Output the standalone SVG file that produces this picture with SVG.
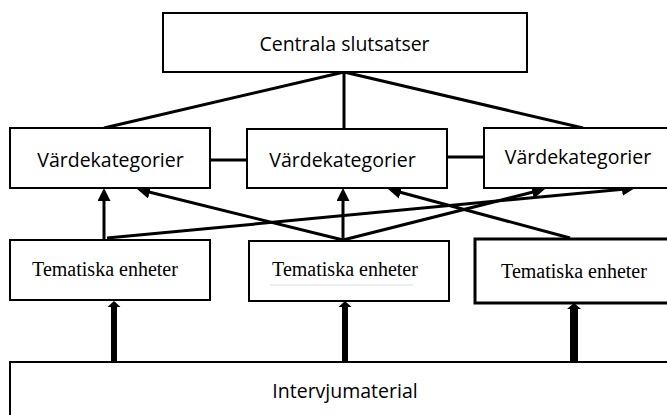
<svg xmlns="http://www.w3.org/2000/svg" width="667" height="415" viewBox="0 0 667 415">
  <style>
    .box { fill: #ffffff; stroke: #000000; stroke-width: 2; }
    .box-thick { fill: #ffffff; stroke: #000000; stroke-width: 3; }
    .sans { font-family: "Open Sans", "Liberation Sans", sans-serif; font-size: 19.5px; fill: #000000; text-anchor: middle; }
    .serif { font-family: "Liberation Serif", "Times New Roman", serif; font-size: 20px; fill: #000000; text-anchor: middle; }
    .link { stroke: #000000; stroke-width: 3; fill: none; }
    .arrow { stroke: #000000; stroke-width: 3; fill: none; marker-end: url(#head); }
  </style>
  <defs>
    <marker id="head" viewBox="0 0 13 13" refX="9" refY="6.5" markerWidth="13" markerHeight="13" markerUnits="userSpaceOnUse" orient="auto">
      <path d="M0,0 L13,6.5 L0,13 Z" fill="#000000"/>
    </marker>
  </defs>

  <rect width="667" height="415" fill="#ffffff"/>

  <!-- connectors -->
  <g id="connectors">
    <!-- conclusions to value categories -->
    <line class="link" x1="344" y1="72" x2="104" y2="128"/>
    <line class="link" x1="344" y1="72" x2="344" y2="129"/>
    <line class="link" x1="344" y1="72" x2="583" y2="128"/>
    <!-- links between value categories -->
    <line class="link" x1="210" y1="160" x2="247" y2="160"/>
    <line class="link" x1="447" y1="157" x2="484" y2="157"/>
    <!-- thematic units to value categories -->
    <line class="arrow" x1="104" y1="240" x2="104" y2="192"/>
    <line class="arrow" x1="107" y1="238" x2="631" y2="188.4"/>
    <line class="arrow" x1="343" y1="240" x2="140.9" y2="190"/>
    <line class="arrow" x1="343" y1="240" x2="343" y2="192"/>
    <line class="arrow" x1="343" y1="240" x2="541.1" y2="190"/>
    <line class="arrow" x1="570" y1="238" x2="391.9" y2="190"/>
    <!-- interview material to thematic units (heavy arrows) -->
    <path d="M111,362 L111,307 L107.5,307 L114,301 L120.5,307 L117,307 L117,362 Z" fill="#000000"/>
    <path d="M342,362 L342,307 L338.5,307 L345,301 L351.5,307 L348,307 L348,362 Z" fill="#000000"/>
    <path d="M570,363 L570,309 L567,309 L574,303 L581,309 L578,309 L578,363 Z" fill="#000000"/>
  </g>

  <g id="centrala-slutsatser">
    <rect class="box" x="163" y="13" width="364" height="59"/>
    <text class="sans" x="344.5" y="51">Centrala slutsatser</text>
  </g>

  <g id="vardekategorier-1">
    <rect class="box" x="10" y="128" width="200" height="60"/>
    <text class="sans" x="110.5" y="167">Värdekategorier</text>
  </g>
  <g id="vardekategorier-2">
    <rect class="box" x="247" y="129" width="200" height="59"/>
    <text class="sans" x="342.5" y="167">Värdekategorier</text>
  </g>
  <g id="vardekategorier-3">
    <rect class="box" x="484" y="128" width="200" height="60"/>
    <text class="sans" x="578" y="164">Värdekategorier</text>
  </g>

  <g id="tematiska-enheter-1">
    <rect class="box" x="10" y="240" width="200" height="60"/>
    <text class="serif" x="105" y="276">Tematiska enheter</text>
  </g>
  <g id="tematiska-enheter-2">
    <rect class="box" x="249" y="241" width="200" height="60"/>
    <line x1="270" y1="285" x2="413" y2="285" stroke="#dddddd" stroke-width="1"/>
    <text class="serif" x="345" y="276">Tematiska enheter</text>
  </g>
  <g id="tematiska-enheter-3">
    <rect class="box-thick" x="475" y="239" width="210" height="64"/>
    <text class="serif" x="574" y="278">Tematiska enheter</text>
  </g>

  <g id="intervjumaterial">
    <rect class="box" x="10" y="362" width="680" height="80"/>
    <text class="sans" x="345" y="398">Intervjumaterial</text>
  </g>
</svg>
